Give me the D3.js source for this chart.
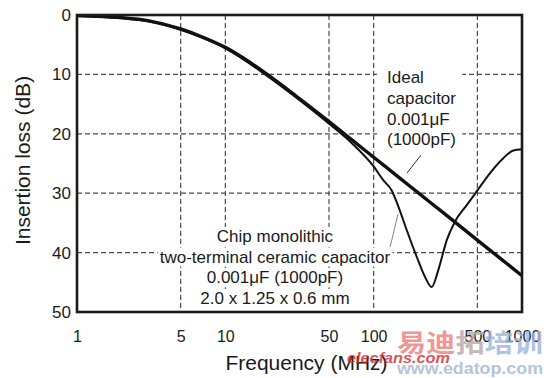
<!DOCTYPE html>
<html><head><meta charset="utf-8">
<script src="https://cdn.jsdelivr.net/npm/d3@7"></script>
<style>
body{margin:0;background:#fff}
svg{display:block}
text{font-family:"Liberation Sans",Arial,Helvetica,sans-serif;fill:#1a1a1a}
</style>
</head><body><svg id="c" width="550" height="378"></svg>
<script>
// ---- data ----
const xTicks = [1, 5, 10, 50, 100, 500, 1000];
const yTicks = [0, 10, 20, 30, 40, 50];
const xGrid = [5, 10, 50, 100, 500];
const yGrid = [10, 20, 30, 40];

const idealFreq = [1, 2, 3, 5, 7, 10, 15, 20, 30, 50, 70, 100, 150, 200, 300, 500, 700, 1000];
const idealLoss = [0.1, 0.45, 0.95, 2.35, 3.7, 5.45, 8.15, 10.35, 13.65, 17.95, 20.85, 23.95, 27.45, 29.95, 33.45, 37.9, 40.8, 43.9];

const chipFreq = [1, 2, 3, 5, 7, 10, 20, 30, 50, 70, 100, 116, 132, 147, 167, 195, 222, 246, 273, 311, 353, 424, 495, 609, 748, 874, 1000];
const chipLoss = [0.15, 0.55, 1.05, 2.5, 3.85, 5.6, 10.6, 13.9, 18.3, 21.4, 25.5, 27.8, 29.5, 32.3, 36.2, 40.7, 44.1, 45.8, 42.9, 37.9, 34.8, 32.0, 29.7, 26.6, 24.1, 22.8, 22.6];

const idealLabel = ["Ideal", "capacitor", "0.001\u03bcF", "(1000pF)"];
const idealLabelAt = [123, 11.5];          // [MHz, dB] of first baseline
const idealLeader = [[208, 23.6], [168, 26.6]];

const chipLabel = ["Chip monolithic", "two-terminal ceramic capacitor", "0.001\u03bcF (1000pF)", "2.0 x 1.25 x 0.6 mm"];
const chipLabelAt = [21.6, 38.2];
const chipLeader = [[146, 33.5], [129, 39.1]];

const xTitle = "Frequency (MHz)";
const yTitle = "Insertion loss (dB)";

// ---- layout ----
const W = 550, H = 378;
const m = {l: 77, t: 15, r: 28, b: 66};
const iw = W - m.l - m.r, ih = H - m.t - m.b;
const lineGap = 20.7;

const svg = d3.select("#c");
svg.append("rect").attr("width", W).attr("height", H).attr("fill", "#fff");
const g = svg.append("g").attr("transform", `translate(${m.l},${m.t})`);

const x = d3.scaleLog().domain([1, 1000]).range([0, iw]);
const y = d3.scaleLinear().domain([0, 50]).range([0, ih]);

// grid
const gridStyle = s => s.attr("stroke", "#4a4a4a").attr("stroke-width", 1.2).attr("stroke-dasharray", "5,3");
g.selectAll(".vg").data(xGrid).join("line")
  .attr("x1", d => x(d)).attr("x2", d => x(d)).attr("y1", 0).attr("y2", ih).call(gridStyle);
g.selectAll(".hg").data(yGrid).join("line")
  .attr("x1", 0).attr("x2", iw).attr("y1", d => y(d)).attr("y2", d => y(d)).call(gridStyle);

// labels (with white backgrounds)
const labelBg = g.append("g");
const labelG = g.append("g");

const it = labelG.append("text").attr("font-size", 17)
  .attr("x", x(idealLabelAt[0])).attr("y", y(idealLabelAt[1]));
it.selectAll("tspan").data(idealLabel).join("tspan")
  .attr("x", x(idealLabelAt[0])).attr("dy", (d, i) => i ? lineGap : 0).text(d => d);
const ib = it.node().getBBox();
labelBg.append("rect").attr("x", ib.x - 10).attr("y", ib.y - 3)
  .attr("width", ib.width + 16).attr("height", ib.height + 6).attr("fill", "#fff");

chipLabel.forEach((t, i) => {
  const tx = labelG.append("text").attr("font-size", 17).attr("text-anchor", "middle")
    .attr("x", x(chipLabelAt[0])).attr("y", y(chipLabelAt[1]) + i * lineGap).text(t);
  const b = tx.node().getBBox();
  labelBg.append("rect").attr("x", b.x - 2).attr("y", b.y)
    .attr("width", b.width + 4).attr("height", b.height).attr("fill", "#fff");
});

// curves
const line = d3.line().x(d => x(d[0])).y(d => y(d[1])).curve(d3.curveMonotoneX);
g.append("path").datum(chipFreq.map((f, i) => [f, chipLoss[i]]))
  .attr("d", line).attr("fill", "none").attr("stroke", "#111").attr("stroke-width", 2);
g.append("path").datum(idealFreq.map((f, i) => [f, idealLoss[i]]))
  .attr("d", line).attr("fill", "none").attr("stroke", "#111").attr("stroke-width", 3.4);

// leaders
const straight = d3.line().x(d => x(d[0])).y(d => y(d[1]));
g.append("path").attr("d", straight(idealLeader)).attr("stroke", "#333").attr("stroke-width", 1).attr("fill", "none");
g.append("path").attr("d", straight(chipLeader)).attr("stroke", "#777").attr("stroke-width", 0.9).attr("fill", "none");

// frame
g.append("rect").attr("x", 0).attr("y", 0).attr("width", iw).attr("height", ih)
  .attr("fill", "none").attr("stroke", "#1a1a1a").attr("stroke-width", 2.6);

// axes
const ya = g.append("g").call(d3.axisLeft(y).tickValues(yTicks).tickSize(0).tickPadding(6).tickFormat(d3.format("d")));
ya.select(".domain").remove();
ya.selectAll("text").attr("font-size", 17).attr("fill", "#1a1a1a").attr("font-family", null);

const xa = g.append("g").attr("transform", `translate(0,${ih})`)
  .call(d3.axisBottom(x).tickValues(xTicks).tickSize(0).tickPadding(19).tickFormat(d3.format("d")));
xa.select(".domain").remove();
xa.selectAll("text").attr("font-size", 16).attr("fill", "#1a1a1a").attr("font-family", null);

// titles
svg.append("text").attr("x", m.l + iw / 2 + 7).attr("y", 370).attr("text-anchor", "middle")
  .attr("font-size", 21).text(xTitle);
svg.append("text").attr("transform", `translate(30,${m.t + ih / 2 - 3}) rotate(-90)`)
  .attr("text-anchor", "middle").attr("font-size", 21).text(yTitle);

// watermark (overlaid in the reference)
const wm = svg.append("g").attr("opacity", 0.8);
const cjk = wm.append("text").attr("x", 397).attr("y", 352).attr("font-size", 25)
  .attr("font-weight", "bold").attr("textLength", 146).attr("lengthAdjust", "spacingAndGlyphs")
  .style("font-family", '"Noto Sans CJK SC", sans-serif');
cjk.append("tspan").text("易迪").style("fill", "#ee7b7b");
cjk.append("tspan").text("拓").style("fill", "#b9a8a8");
cjk.append("tspan").text("培训").style("fill", "#9fb4dc");
wm.append("text").attr("x", 347).attr("y", 363).attr("font-size", 15).attr("font-weight", "bold")
  .attr("font-style", "italic").attr("textLength", 103).attr("lengthAdjust", "spacingAndGlyphs")
  .style("fill", "#d42a2a").text("elecfans.com");
wm.append("text").attr("x", 397).attr("y", 374).attr("font-size", 16).attr("font-weight", "bold")
  .attr("textLength", 146).attr("lengthAdjust", "spacingAndGlyphs")
  .style("fill", "#a4b6d2").text("www.edatop.com");
</script>
</body></html>
